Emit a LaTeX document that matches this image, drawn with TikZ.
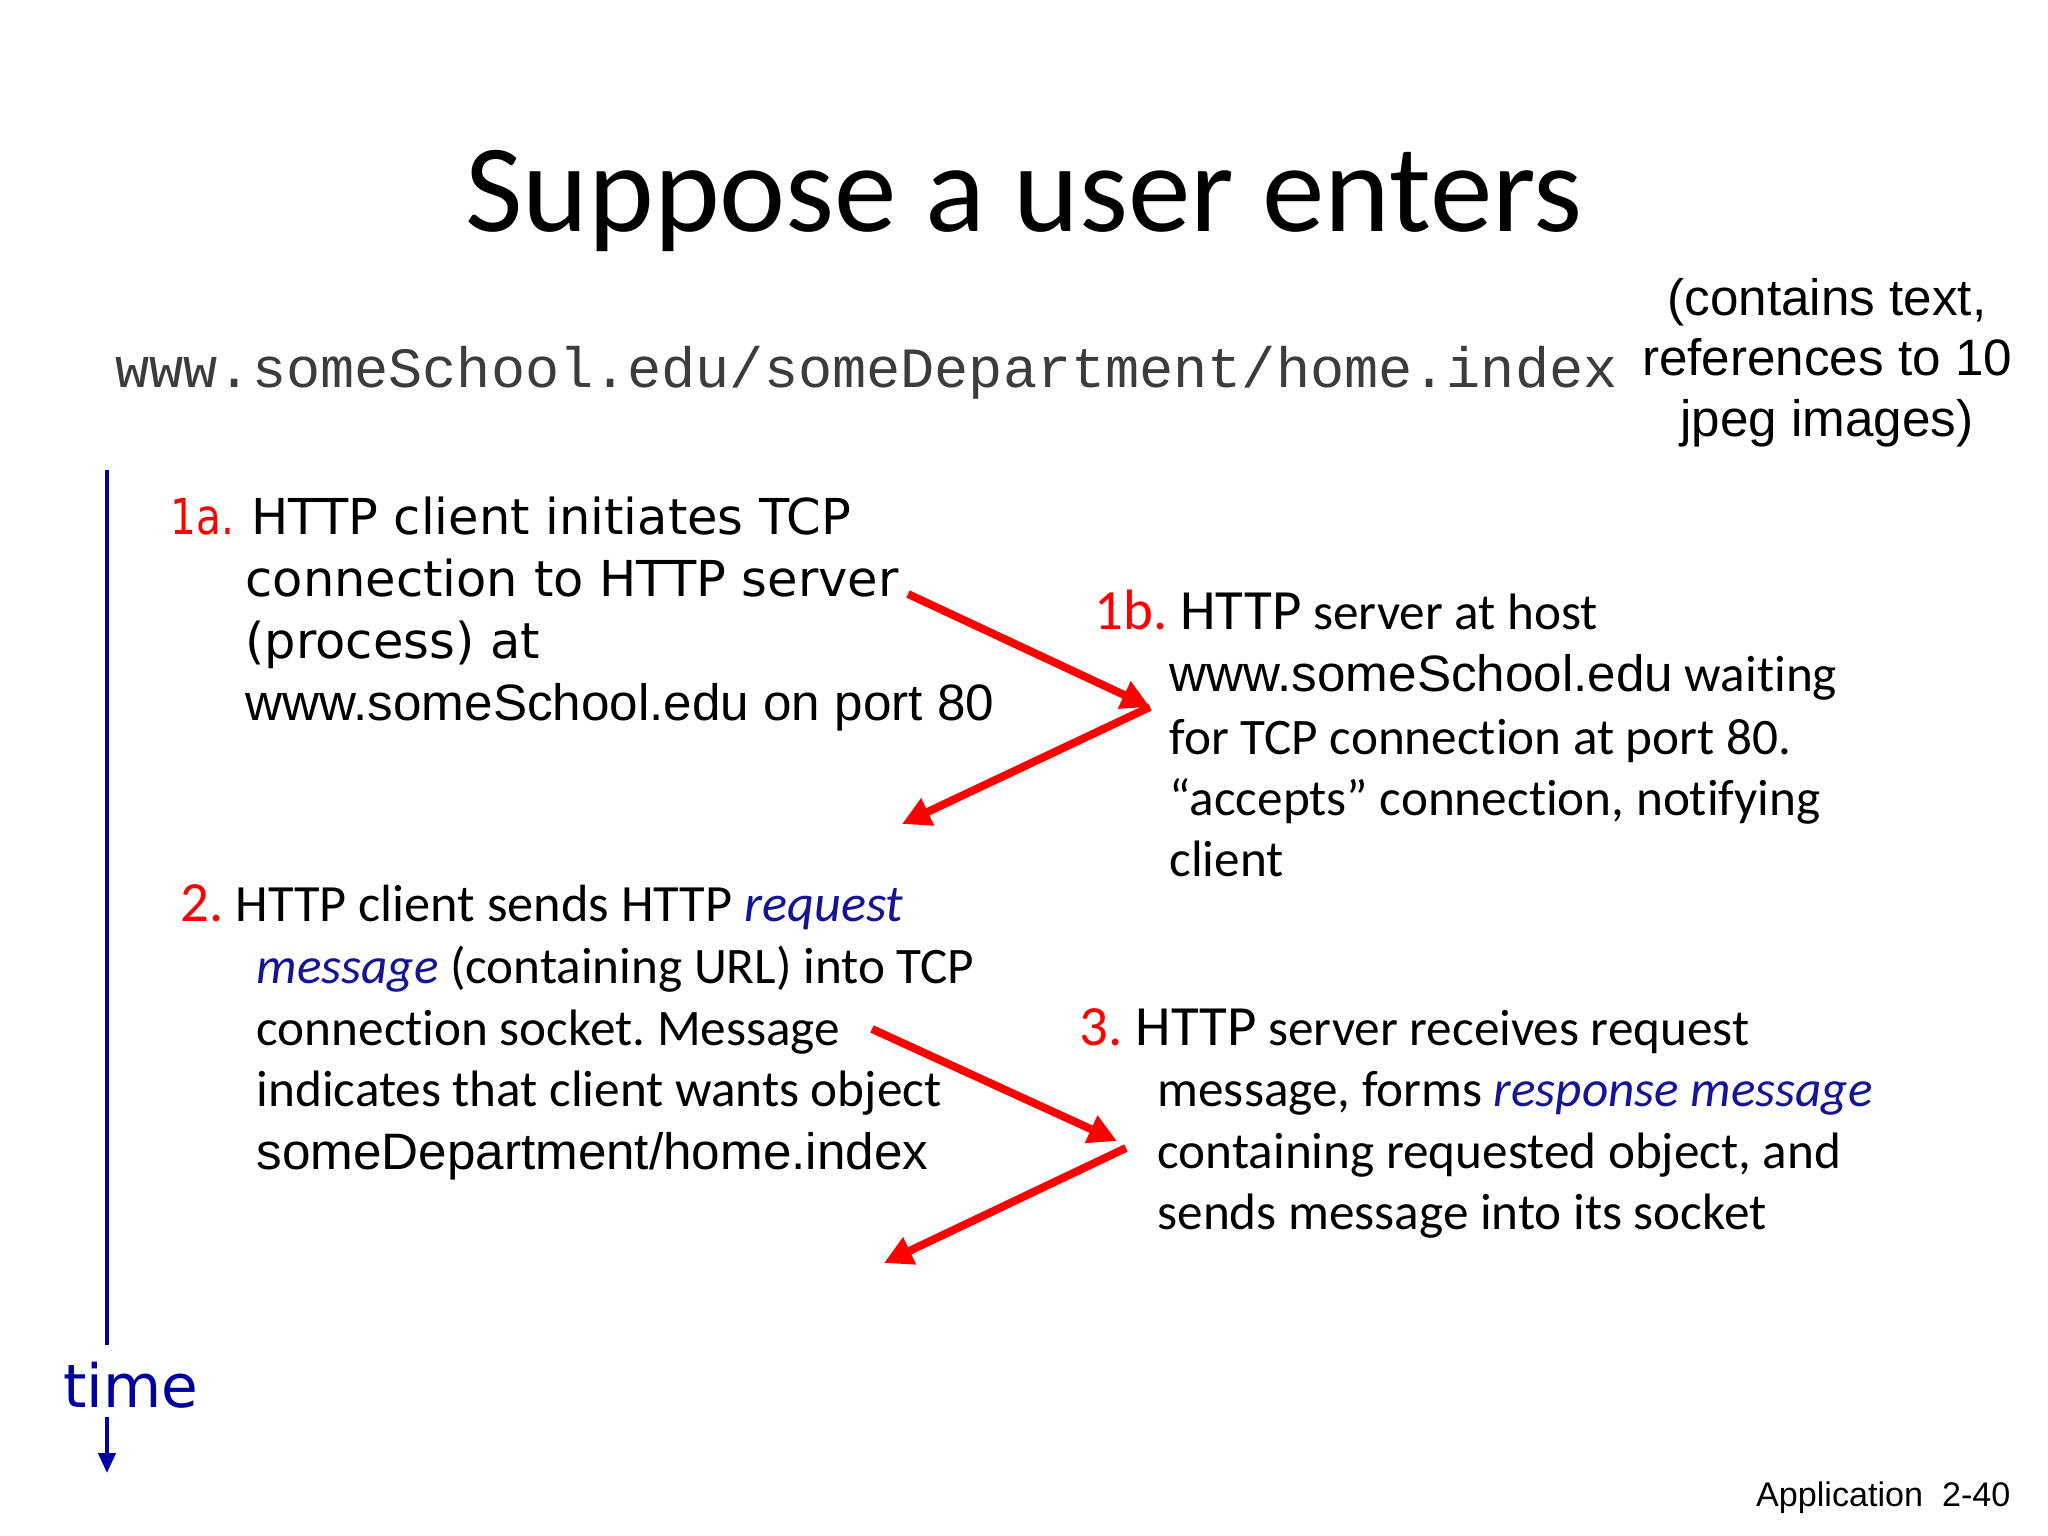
\documentclass[tikz,border=0pt]{standalone}
\usepackage{fontspec}
\setmainfont[Ligatures=NoCommon]{Carlito}
\newfontfamily\arialf{Liberation Sans}
\newfontfamily\monof{Liberation Mono}
\newfontfamily\comicf{DejaVu Sans}
\usetikzlibrary{arrows.meta}
\definecolor{tblue}{RGB}{0,0,160}
\definecolor{iblue}{RGB}{20,20,150}
\definecolor{urlgray}{RGB}{60,60,60}
\definecolor{nred}{RGB}{255,0,0}
\frenchspacing
\begin{document}
\begin{tikzpicture}[x=0.3515625pt,y=-0.3515625pt,
  txt/.style={anchor=base west,inner sep=0pt,font=\fontsize{18}{21}\selectfont},
  comictxt/.style={anchor=base west,inner sep=0pt,font=\comicf\fontsize{17.4}{21}\selectfont},
  paren/.style={anchor=base,inner sep=0pt,font=\arialf\fontsize{18}{21}\selectfont},
  redarrow/.style={draw=nred,line width=2.8pt,-{Triangle[length=10pt,width=10pt]}},
  timearrow/.style={draw=tblue,line width=1.4pt}
]
\path[use as bounding box,fill=white] (0,0) rectangle (2048,1536);

% title
\node[anchor=base,inner sep=0pt,font=\fontsize{44}{50}\selectfont] (title) at (1024,232) {Suppose a user enters};
\node[anchor=base west,inner sep=0pt,font=\monof\fontsize{20}{24}\selectfont,text=urlgray] (url) at (115,388) {www.someSchool.edu/someDepartment/home.index};
\node[paren] (p1) at (1827,316) {(contains text,};
\node[paren] (p2) at (1827,376) {references to 10};
\node[paren] (p3) at (1827,437) {jpeg images)};

% time axis
\coordinate (t0) at (107,470);
\coordinate (t1) at (107,1345);
\coordinate (t2) at (107,1417);
\coordinate (t3) at (107,1473);
\draw[timearrow] (t0) -- (t1);
\node[anchor=base,inner sep=0pt,font=\comicf\fontsize{21}{24}\selectfont,text=tblue] (time) at (131,1407) {time};
\draw[timearrow,-{Triangle[length=7pt,width=6pt]}] (t2) -- (t3);

% 1a
\node[comictxt,text=nred] (a0) at (170,535) {\scalebox{0.82}[1]{1a.}};
\node[comictxt] (a1) at (251,535) {HTTP client initiates TCP};
\node[comictxt] (a2) at (245,597) {connection to HTTP server};
\node[comictxt] (a3) at (245,658) {(process) at};
\node[txt,font=\arialf\fontsize{18}{21}\selectfont] (a4) at (245,720) {www.someSchool.edu on port 80};

% 1b
\node[txt] (b1) at (1094,629) {{\fontsize{20}{24}\selectfont\textcolor{nred}{1b.} HTTP} server at host};
\node[txt] (b2) at (1169,692) {{\arialf www.someSchool.edu} waiting};
\node[txt] (b3) at (1169,754) {for TCP connection at port 80.};
\node[txt] (b4) at (1169,815) {“accepts” connection, notifying};
\node[txt] (b5) at (1169,876) {client};

% 2
\node[txt,font=\fontsize{18.4}{21}\selectfont] (c1) at (180,921) {{\fontsize{20}{24}\selectfont\textcolor{nred}{2.}} HTTP client sends HTTP \textcolor{iblue}{\textit{request}}};
\node[txt] (c2) at (256,983) {\textcolor{iblue}{\textit{message}} (containing URL) into TCP};
\node[txt] (c3) at (256,1045) {connection socket. Message};
\node[txt] (c4) at (256,1106) {indicates that client wants object};
\node[txt,font=\arialf\fontsize{18}{21}\selectfont] (c5) at (256,1169) {someDepartment/home.index};

% 3
\node[txt] (d1) at (1079,1045) {{\fontsize{20}{24}\selectfont\textcolor{nred}{3.} HTTP} server receives request};
\node[txt] (d2) at (1157,1106) {message, forms \textcolor{iblue}{\textit{response message}}};
\node[txt] (d3) at (1157,1168) {containing requested object, and};
\node[txt] (d4) at (1157,1229) {sends message into its socket};

% arrows
\coordinate (r1s) at (908,594);
\coordinate (r1e) at (1150,707);
\coordinate (r2e) at (902,824);
\draw[redarrow] (r1s) -- (r1e);
\draw[redarrow] (r1e) -- (r2e);
\coordinate (s1s) at (872,1029);
\coordinate (s1e) at (1117,1141);
\coordinate (s2s) at (1126,1148);
\coordinate (s2e) at (884,1263);
\draw[redarrow] (s1s) -- (s1e);
\draw[redarrow] (s2s) -- (s2e);

\node[anchor=base east,inner sep=0pt,font=\arialf\fontsize{12}{14}\selectfont] (foot) at (2011,1506) {Application\ \ 2-40};
\end{tikzpicture}
\end{document}
